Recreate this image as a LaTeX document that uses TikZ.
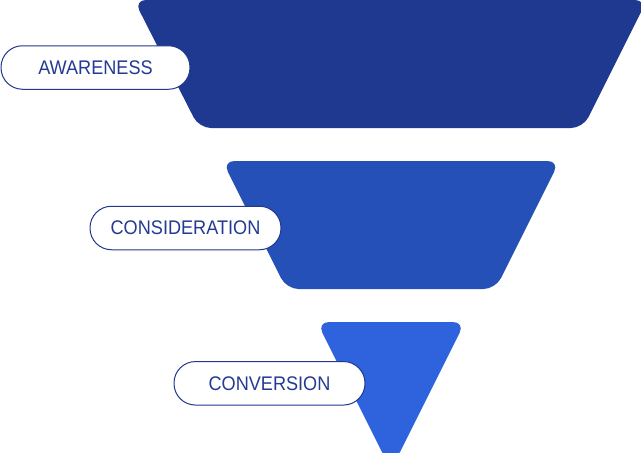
\documentclass[tikz,border=0pt]{standalone}
\usepackage{fontspec}
\setmainfont{Liberation Sans}[FakeStretch=0.92]
\definecolor{fone}{RGB}{30,57,143}
\definecolor{ftwo}{RGB}{36,80,183}
\definecolor{fthree}{RGB}{47,99,222}
\definecolor{pillline}{RGB}{34,56,140}
\definecolor{pilltext}{RGB}{36,58,148}
\tikzset{
  pill/.style={draw=pillline, line width=1pt, fill=white, rounded corners=21.5pt,
    inner sep=0pt, minimum height=43.5pt, text=pilltext,
    font=\fontsize{19.7}{24}\selectfont},
  stage/.style={rounded corners=12pt}
}
\begin{document}
\begin{tikzpicture}[x=1pt,y=-1pt]
\useasboundingbox (0,0) rectangle (641,453);
\clip (0,0) rectangle (641,453);
% funnel stages
\fill[fone, stage] (134,0) -- (647,0) -- (583,128) -- (199,128) -- cycle;
\fill[ftwo, stage] (222.5,161) -- (559.5,161) -- (495.5,289) -- (286.5,289) -- cycle;
\fill[fthree, stage] (391,322) -- (465,322) -- (405.3,441.4)
  .. controls (397.4,457.2) and (384.6,457.2) .. (376.7,441.4) -- (317,322) -- cycle;
% labels
\node[pill, minimum width=189pt] (aw) at (95.5,67.5) {AWARENESS};
\node[pill, minimum width=191pt] (co) at (185.5,228) {CONSIDERATION};
\node[pill, minimum width=191pt] (cv) at (269.5,383.3) {CONVERSION};
\end{tikzpicture}
\end{document}
